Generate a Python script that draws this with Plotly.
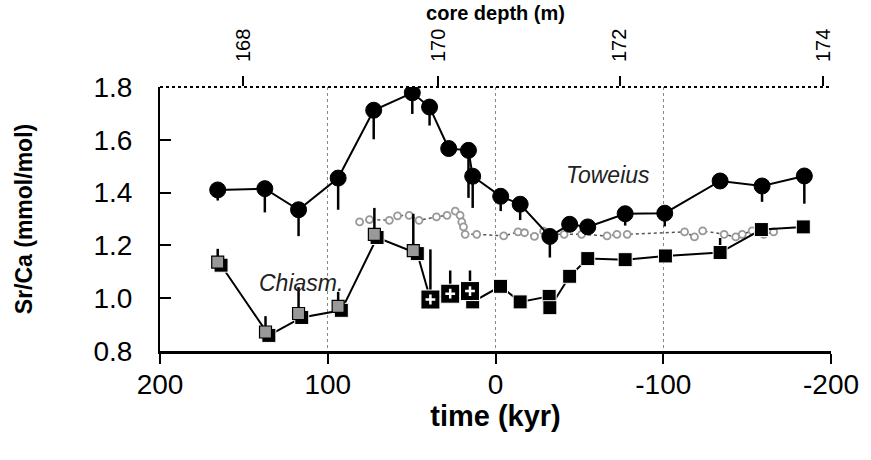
import plotly.graph_objects as go

# ---------------- data ----------------
toweius_t = [165.6, 137.5, 117.4, 93.8, 72.6, 49.6, 39.3, 27.9, 16.1, 13.6, -3.1, -14.7,
             -32.4, -44.2, -55.0, -77.3, -100.9, -133.9, -158.9, -184.1]
toweius_v = [1.41, 1.415, 1.335, 1.455, 1.712, 1.778, 1.724, 1.567, 1.560, 1.462, 1.386, 1.356,
             1.234, 1.280, 1.270, 1.320, 1.322, 1.444, 1.425, 1.463]
toweius_err = [0.04, 0.09, 0.1, 0.12, 0.11, 0.08, 0.07, 0.0, 0.18, 0.12, 0.056, 0.06,
               0.08, 0.0, 0.0, 0.045, 0.05, 0.0, 0.06, 0.105]

chi_t = [163.6, 135.1, 115.5, 91.9, 70.6, 46.6, 38.8, 27.0, 15.2, 13.6, -3.0, -14.7,
         -32.0, -32.4, -44.2, -55.0, -77.3, -101.3, -133.9, -158.5, -183.5]
chi_v = [1.125, 0.859, 0.927, 0.954, 1.230, 1.169, 0.995, 1.017, 1.027, 0.986, 1.045, 0.986,
         1.007, 0.964, 1.083, 1.150, 1.146, 1.160, 1.173, 1.260, 1.270]
chi_err = [0, 0, 0, 0, 0, 0, 0.19, 0.088, 0.078, 0, 0, 0,
           0, 0, 0, 0, 0, 0, 0.055, 0, 0]
chi_plus_t = [38.8, 27.0, 15.2]
chi_plus_v = [0.995, 1.017, 1.027]

chig_t = [165.6, 137.1, 117.4, 93.8, 72.2, 49.0]
chig_v = [1.137, 0.872, 0.942, 0.969, 1.242, 1.180]
chig_err = [0.05, 0.06, 0.1, 0.055, 0.1, 0.14]

dot_t = [81.0, 75.1, 63.3, 58.4, 51.5, 45.6, 35.2, 28.9, 24.0, 21.1, 20.1, 19.1, 18.1, 11.2,
         -4.9, -13.4, -17.3, -23.2, -28.7, -33.6, -40.9, -51.3, -66.5, -72.4, -78.5,
         -112.7, -118.6, -123.5, -136.3, -143.2, -147.1, -153.0, -159.9, -165.8]
dot_v = [1.289, 1.298, 1.295, 1.312, 1.314, 1.295, 1.308, 1.314, 1.330, 1.314, 1.289, 1.270,
         1.242, 1.242, 1.236, 1.251, 1.248, 1.234, 1.254, 1.242, 1.242, 1.242, 1.236, 1.242,
         1.242, 1.251, 1.232, 1.255, 1.242, 1.232, 1.242, 1.255, 1.242, 1.251]

time_ticks = [200, 100, 0, -100, -200]
y_ticks = [0.8, 1.0, 1.2, 1.4, 1.6, 1.8]
y_tick_text = ["0.8", "1.0", "1.2", "1.4", "1.6", "1.8"]
depth_labels = ["168", "170", "172", "174"]
depth_pos_kyr = [150.3, 34.1, -74.1, -195.3]

FONT = "Liberation Sans, Arial, sans-serif"

fig = go.Figure()

# dotted high-resolution record
fig.add_trace(go.Scatter(
    x=dot_t, y=dot_v, mode="lines+markers",
    line=dict(color="#555555", width=1.5, dash="dot"),
    marker=dict(symbol="circle", size=7, color="white", line=dict(color="#999999", width=1.8)),
    showlegend=False))

# Toweius
fig.add_trace(go.Scatter(
    x=toweius_t, y=toweius_v, mode="lines+markers",
    line=dict(color="black", width=2),
    marker=dict(symbol="circle", size=16, color="black", line=dict(color="black", width=1)),
    error_y=dict(type="data", symmetric=False, array=[0] * len(toweius_err),
                 arrayminus=toweius_err, width=0, thickness=2.5, color="black"),
    showlegend=False))

# Chiasmolithus (black squares with line)
fig.add_trace(go.Scatter(
    x=chi_t, y=chi_v, mode="lines+markers",
    line=dict(color="black", width=2),
    marker=dict(symbol="square", size=14, color="black", line=dict(color="white", width=1)),
    error_y=dict(type="data", symmetric=False, array=chi_err,
                 arrayminus=[0] * len(chi_err), width=0, thickness=2.5, color="black"),
    showlegend=False))

# big squares with white cross
fig.add_trace(go.Scatter(
    x=chi_plus_t, y=chi_plus_v, mode="markers",
    marker=dict(symbol="square", size=19, color="black", line=dict(color="white", width=1)),
    showlegend=False))
fig.add_trace(go.Scatter(
    x=chi_plus_t, y=chi_plus_v, mode="markers",
    marker=dict(symbol="cross-thin", size=7, color="white", line=dict(color="white", width=2.5)),
    showlegend=False))

# grey squares
fig.add_trace(go.Scatter(
    x=chig_t, y=chig_v, mode="markers",
    marker=dict(symbol="square", size=12, color="#999999", line=dict(color="black", width=1.2)),
    error_y=dict(type="data", symmetric=False, array=chig_err,
                 arrayminus=[0] * len(chig_err), width=0, thickness=2.5, color="black"),
    showlegend=False))

# invisible trace for top axis
fig.add_trace(go.Scatter(x=[None], y=[None], xaxis="x2", showlegend=False, hoverinfo="skip"))

fig.add_annotation(x=-41, y=1.466, text="<i>Toweius</i>", showarrow=False,
                   xanchor="left", font=dict(family=FONT, size=23, color="#222222"))
fig.add_annotation(x=142, y=1.056, text="<i>Chiasm.</i>", showarrow=False,
                   xanchor="left", font=dict(family=FONT, size=23, color="#222222"))

# dotted top frame line
fig.add_shape(type="line", xref="paper", yref="paper", x0=0, x1=1, y0=1, y1=1,
              line=dict(color="black", width=2, dash="dot"))

fig.update_layout(
    width=871, height=460,
    margin=dict(l=160, r=33, t=87, b=109),
    paper_bgcolor="white", plot_bgcolor="white",
    font=dict(family=FONT, color="black"),
    xaxis=dict(range=[200, -200], tickvals=time_ticks, ticktext=[str(v) for v in time_ticks],
               ticks="outside", ticklen=10, tickwidth=2, tickcolor="black",
               showline=True, linecolor="black", linewidth=2.5,
               showgrid=True, gridcolor="#888888", griddash="dot", gridwidth=1,
               zeroline=False, tickfont=dict(size=28, family=FONT), ticklabelstandoff=-3,
               title=dict(text="<b>time (kyr)</b>", font=dict(size=29, family=FONT), standoff=0)),
    xaxis2=dict(range=[200, -200], overlaying="x", side="top", anchor="y",
                tickvals=depth_pos_kyr, ticktext=depth_labels, tickangle=-90,
                ticks="outside", ticklen=10, tickwidth=1.5, tickcolor="black",
                showline=False, showgrid=False, zeroline=False,
                tickfont=dict(size=20, family=FONT), ticklabelstandoff=10,
                title=dict(text="<b>core depth (m)</b>", font=dict(size=20, family=FONT), standoff=2)),
    yaxis=dict(range=[0.8, 1.8], tickvals=y_ticks, ticktext=y_tick_text,
               ticks="inside", ticklen=11, tickwidth=2, tickcolor="black",
               showline=True, linecolor="black", linewidth=2,
               showgrid=False, zeroline=False, tickfont=dict(size=28, family=FONT),
               ticklabelstandoff=20,
               title=dict(text="<b>Sr/Ca (mmol/mol)</b>", font=dict(size=23, family=FONT), standoff=54)),
)

fig.write_html("out.html")
